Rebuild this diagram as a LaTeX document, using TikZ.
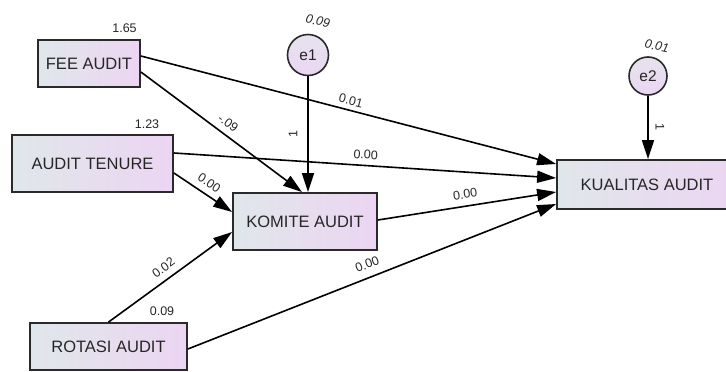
\documentclass[tikz,border=0pt]{standalone}
\usepackage{fontspec}
\setmainfont{Liberation Sans}
\usetikzlibrary{arrows.meta,calc}
\definecolor{boxL}{HTML}{E0E7EA}
\definecolor{boxR}{HTML}{ECD5F3}
\definecolor{cirT}{HTML}{E6E3EE}
\definecolor{cirB}{HTML}{EBD6F3}
\definecolor{edgeC}{HTML}{2A2A2A}
\begin{document}
\begin{tikzpicture}[x=1pt,y=-1pt,
  var/.style={draw=edgeC, line width=1.8pt, left color=boxL, right color=boxR,
    font=\fontsize{16.5}{18}\selectfont, text=black!85, inner sep=0pt},
  err/.style={circle, draw=edgeC, line width=1.6pt, top color=cirT, bottom color=cirB,
    font=\fontsize{15.5}{17}\selectfont, text=black!85, inner sep=0pt, minimum size=41pt},
  path/.style={-{Triangle[length=19pt,width=12pt]}, line width=1.6pt, draw=black},
  lab/.style={font=\fontsize{12.5}{13}\selectfont, inner sep=1pt, text=black!85},
  ilab/.style={lab, font=\fontsize{12.5}{13}\selectfont\itshape},
]
\useasboundingbox (0,0) rectangle (726,372);

% observed variables
\node[var, minimum width=102pt, minimum height=47pt] (fee) at (89,63.5) {FEE AUDIT};
\node[var, minimum width=161pt, minimum height=57pt] (ten) at (92.5,163.5) {AUDIT TENURE};
\node[var, minimum width=157pt, minimum height=47pt] (rot) at (108.5,346.5) {ROTASI AUDIT};
\node[var, minimum width=144pt, minimum height=57pt] (kom) at (305,221.5) {KOMITE AUDIT};
\node[var, minimum width=180pt, minimum height=49pt] (kua) at (647,184.5) {KUALITAS AUDIT};

% error terms
\node[err] (e1) at (308,55) {e1};
\node[err, minimum size=38pt] (e2) at (648,76) {e2};

% variance labels
\node[lab] (v1) at (124.5,28) {1.65};
\node[lab] (v2) at (147,124) {1.23};
\node[lab] (v3) at (162,311) {0.09};
\node[ilab, rotate=-12] (v4) at (318,21) {0.09};
\node[ilab, rotate=-12] (v5) at (657,46) {0.01};

% paths
\draw[path] (e1.south) -- node[lab, pos=.5, xshift=-15pt, rotate=90]{1} (e1.south |- kom.north);
\draw[path] (e2.south) -- node[lab, pos=.5, xshift=12pt, rotate=-90]{1} (e2.south |- kua.north);
\draw[path] ([yshift=7.5pt]fee.east) -- node[lab, sloped, above=3.5pt]{0.01} ([yshift=20.5pt]kua.west);
\draw[path] ([yshift=-8.5pt]fee.east) -- node[lab, sloped, above=5pt]{-.09} ([xshift=-3pt]kom.north);
\draw[path] ([yshift=10.5pt]ten.east) -- node[lab, sloped, above=4.5pt]{0.00} ([yshift=6.5pt]kua.west);
\draw[path] ([yshift=-9.5pt]ten.east) -- node[lab, sloped, above=5pt]{0.00} ([yshift=9.5pt]kom.west);
\draw[path] ([yshift=1.5pt]kom.east) -- node[lab, sloped, above=5.5pt]{0.00} ([yshift=-7.5pt]kua.west);
\draw[path] (rot.north) -- node[lab, sloped, above=5.5pt]{0.02} ([yshift=-10.5pt]kom.west);
\draw[path] ([yshift=-2.5pt]rot.east) -- node[lab, sloped, above=7pt]{0.00} ([yshift=-19.5pt]kua.west);
\end{tikzpicture}
\end{document}
